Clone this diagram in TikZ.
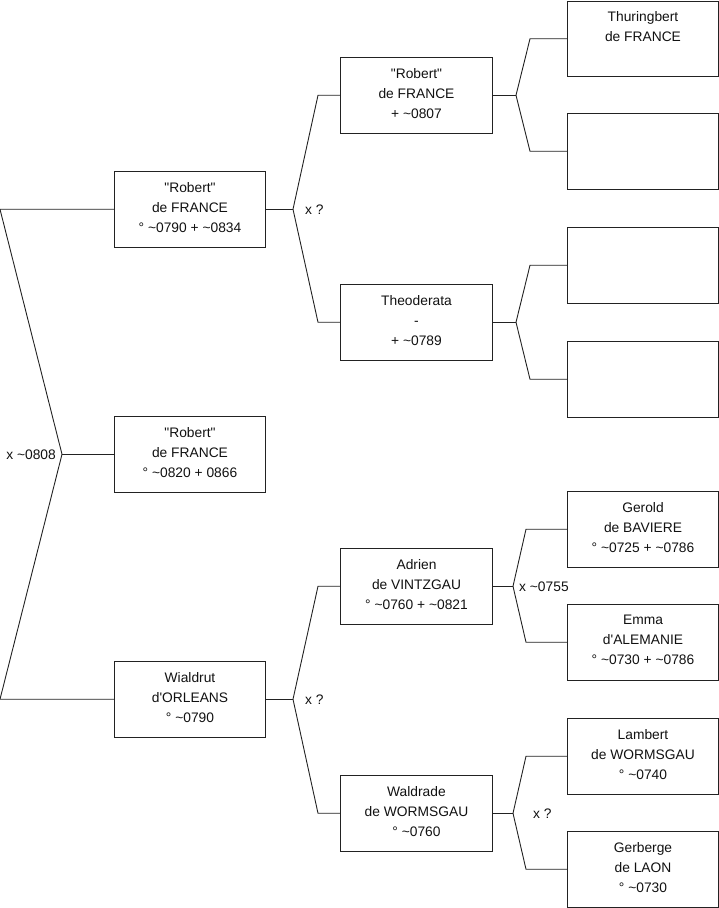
\documentclass[tikz,border=0pt]{standalone}
\usepackage{fontspec}
\setmainfont{Liberation Sans}
\usetikzlibrary{positioning,calc}
\definecolor{cline}{HTML}{222222}
\definecolor{ctext}{HTML}{111111}
\newcommand{\abt}{\textasciitilde}
\newcommand{\qq}{\textquotedbl}

\begin{document}
\begin{tikzpicture}[
  x=1pt, y=-1pt,
  box/.style={rectangle, draw=cline, line width=1pt, inner sep=0pt,
              minimum width=151pt, minimum height=75.5pt, anchor=north west},
  who/.style={anchor=north, align=center, inner sep=3pt, text=ctext,
              font=\fontsize{13.8}{20}\selectfont},
  mar/.style={inner sep=2pt, text=ctext, font=\fontsize{13.8}{15}\selectfont},
  link/.style={draw=cline, line width=0.9pt}
]
\useasboundingbox (0,0) rectangle (719,908);

% --- generation 1 ---
\node[box] (rob1) at (114,171) {};
\node[who] (rob1-t) at ($(rob1.north)+(0,8)$) {\qq Robert\qq\\de FRANCE\\° \abt0790 + \abt0834};
\node[box] (rob2) at (114,416) {};
\node[who] (rob2-t) at ($(rob2.north)+(0,8.5)$) {\qq Robert\qq\\de FRANCE\\° \abt0820 + 0866};
\node[box] (wialdrut) at (114,661) {};
\node[who] (wialdrut-t) at ($(wialdrut.north)+(0,8.5)$) {Wialdrut\\d\textquotesingle ORLEANS\\° \abt0790};

% --- generation 2 ---
\node[box, minimum width=152pt] (robsr) at (340,57) {};
\node[who] (robsr-t) at ($(robsr.north)+(0,8)$) {\qq Robert\qq\\de FRANCE\\+ \abt0807};
\node[box, minimum width=152pt] (theoderata) at (340,284) {};
\node[who] (theoderata-t) at ($(theoderata.north)+(0,8)$) {Theoderata\\-\\+ \abt0789};
\node[box, minimum width=152pt] (adrien) at (340,548) {};
\node[who] (adrien-t) at ($(adrien.north)+(0,8)$) {Adrien\\de VINTZGAU\\° \abt0760 + \abt0821};
\node[box, minimum width=152pt] (waldrade) at (340,775) {};
\node[who] (waldrade-t) at ($(waldrade.north)+(0,8)$) {Waldrade\\de WORMSGAU\\° \abt0760};

% --- generation 3 ---
\node[box] (thuringbert) at (567,0.5) {};
\node[who] (thuringbert-t) at ($(thuringbert.north)+(0,8)$) {Thuringbert\\de FRANCE};
\node[box] (unk1) at (567,113) {};
\node[box] (unk2) at (567,227) {};
\node[box] (unk3) at (567,341) {};
\node[box] (gerold) at (567,491) {};
\node[who] (gerold-t) at ($(gerold.north)+(0,8)$) {Gerold\\de BAVIERE\\° \abt0725 + \abt0786};
\node[box] (emma) at (567,604) {};
\node[who] (emma-t) at ($(emma.north)+(0,8)$) {Emma\\d\textquotesingle ALEMANIE\\° \abt0730 + \abt0786};
\node[box] (lambert) at (567,718) {};
\node[who] (lambert-t) at ($(lambert.north)+(0,8)$) {Lambert\\de WORMSGAU\\° \abt0740};
\node[box] (gerberge) at (567,831) {};
\node[who] (gerberge-t) at ($(gerberge.north)+(0,8)$) {Gerberge\\de LAON\\° \abt0730};

% --- root fork ---
\coordinate (f0) at ($(rob2.west)+(-52,0)$);
\coordinate (f0a) at ($(rob1.west)+(-114,0)$);
\coordinate (f0b) at ($(wialdrut.west)+(-114,0)$);
\draw[link] (rob1.west) -- (f0a) -- (f0) -- (f0b) -- (wialdrut.west);
\draw[link] (f0) -- (rob2.west);
\node[mar, anchor=east] (m0) at ($(f0)+(-4,0)$) {x \abt0808};

% --- forks of generation 1 ---
\coordinate (f1) at ($(rob1.east)+(27,0)$);
\draw[link] (rob1.east) -- (f1);
\draw[link] (f1) -- ($(robsr.west)+(-22,0)$) -- (robsr.west);
\draw[link] (f1) -- ($(theoderata.west)+(-22,0)$) -- (theoderata.west);
\node[mar, anchor=west] (m1) at ($(f1)+(10,0)$) {x ?};

\coordinate (f4) at ($(wialdrut.east)+(27,0)$);
\draw[link] (wialdrut.east) -- (f4);
\draw[link] (f4) -- ($(adrien.west)+(-22,0)$) -- (adrien.west);
\draw[link] (f4) -- ($(waldrade.west)+(-22,0)$) -- (waldrade.west);
\node[mar, anchor=west] (m4) at ($(f4)+(10,0)$) {x ?};

% --- forks of generation 2 ---
\coordinate (f2) at ($(robsr.east)+(23,0)$);
\draw[link] (robsr.east) -- (f2);
\draw[link] (f2) -- ($(thuringbert.west)+(-37,0)$) -- (thuringbert.west);
\draw[link] (f2) -- ($(unk1.west)+(-37,0)$) -- (unk1.west);

\coordinate (f3) at ($(theoderata.east)+(23,0)$);
\draw[link] (theoderata.east) -- (f3);
\draw[link] (f3) -- ($(unk2.west)+(-37,0)$) -- (unk2.west);
\draw[link] (f3) -- ($(unk3.west)+(-37,0)$) -- (unk3.west);

\coordinate (f5) at ($(adrien.east)+(20,0)$);
\draw[link] (adrien.east) -- (f5);
\draw[link] (f5) -- ($(gerold.west)+(-41,0)$) -- (gerold.west);
\draw[link] (f5) -- ($(emma.west)+(-41,0)$) -- (emma.west);
\node[mar, anchor=west] (m5) at ($(f5)+(4,0)$) {x \abt0755};

\coordinate (f6) at ($(waldrade.east)+(20,0)$);
\draw[link] (waldrade.east) -- (f6);
\draw[link] (f6) -- ($(lambert.west)+(-41,0)$) -- (lambert.west);
\draw[link] (f6) -- ($(gerberge.west)+(-41,0)$) -- (gerberge.west);
\node[mar, anchor=west] (m6) at ($(f6)+(18,0)$) {x ?};

\end{tikzpicture}
\end{document}
